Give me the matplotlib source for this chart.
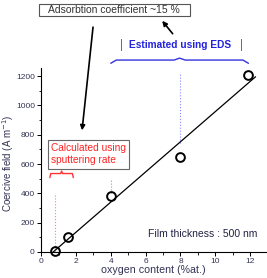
import matplotlib
matplotlib.use("Agg")
import matplotlib.pyplot as plt
from matplotlib.ticker import MultipleLocator

plt.rcParams['font.family'] = ['Liberation Sans', 'DejaVu Sans']

# measured points
oxygen = [0.8, 1.55, 4.0, 7.95, 11.9]
coercive = [8, 104, 382, 648, 1205]

# linear fit line
fit_x = [0.7, 12.3]
fit_y = [0, 1195]

# dotted guide lines
guide_x = [0.8, 4.0, 8.0]
guide_lo = [0, 400, 745]
guide_hi = [400, 490, 1220]
guide_col = ['#ff8080', '#9999aa', '#8888ff']

# brace ranges
eds_range = [4.0, 11.9]
eds_y = 1310
sput_range = [0.5, 1.85]
sput_y = 515

text_col = '#333355'


def brace(ax, x0, x1, y, h, color, lw=1.0):
    # simple curly brace, tip up, ends curling down
    xm = (x0 + x1) / 2
    r = (x1 - x0) * 0.04
    ax.plot([x0, x0 + r, xm - r, xm, xm + r, x1 - r, x1],
            [y - h, y, y, y + h * 0.6, y, y, y - h],
            color=color, lw=lw, clip_on=False, solid_capstyle='round')


fig = plt.figure(figsize=(2.67, 2.78), dpi=100)
ax = fig.add_axes([0.154, 0.094, 0.843, 0.661])

ax.plot(fit_x, fit_y, color='black', lw=0.9, zorder=2)
ax.plot(oxygen, coercive, 'o', ms=6.3, mfc='none', mec='black', mew=1.4,
        clip_on=False, zorder=3)

for gx, lo, hi, c in zip(guide_x, guide_lo, guide_hi, guide_col):
    ax.plot([gx, gx], [lo, hi], ls=':', lw=0.8, color=c, zorder=1, clip_on=False)

ax.set_xlim(0, 12.92)
ax.set_ylim(0, 1255)
ax.xaxis.set_major_locator(MultipleLocator(2))
ax.xaxis.set_minor_locator(MultipleLocator(1))
ax.yaxis.set_major_locator(MultipleLocator(200))
ax.yaxis.set_minor_locator(MultipleLocator(100))
ax.tick_params(which='major', length=3, width=0.7, labelsize=6, labelcolor=text_col, pad=1.5)
ax.tick_params(which='minor', length=1.8, width=0.6)
ax.spines['top'].set_visible(False)
ax.spines['right'].set_visible(False)
for s in ['left', 'bottom']:
    ax.spines[s].set_linewidth(0.8)

ax.set_xlabel('oxygen content (%at.)', fontsize=7.7, color=text_col, labelpad=0)
ax.set_ylabel('Coercive field (A m$^{-1}$)', fontsize=7, color=text_col)
ax.yaxis.set_label_coords(-0.112, 0.484)

ax.text(12.4, 120, 'Film thickness : 500 nm', fontsize=7.5, color='#222244',
        ha='right', va='center')

# EDS annotation
brace(ax, eds_range[0], eds_range[1], eds_y, 22, '#3333dd', lw=1.0)
ax.text(7.95, 1411, 'Estimated using EDS', fontsize=7.3, fontweight='bold',
        color='#2222dd', ha='center', va='center', clip_on=False)
ax.text(4.6, 1411, '|', fontsize=8.5, color='#6666aa', ha='center', va='center')
ax.text(11.5, 1411, '|', fontsize=8.5, color='#6666aa', ha='center', va='center')

# sputtering annotation
brace(ax, sput_range[0], sput_range[1], sput_y + 20, 28, '#ff3333', lw=1.0)
ax.text(0.57, 665, 'Calculated using\nsputtering rate', fontsize=7.3, color='#ff2222',
        ha='left', va='center', linespacing=1.25,
        bbox=dict(boxstyle='square,pad=0.3', fc='white', ec='#666666', lw=0.8))

# top box and arrows
ax.text(4.22, 1650, '   Adsorbtion coefficient ~15 %   ', fontsize=7.5, color='#333333',
        ha='center', va='center', clip_on=False,
        bbox=dict(boxstyle='square,pad=0.1', fc='white', ec='#555555', lw=0.8))
ax.annotate('', xy=(2.35, 830), xytext=(2.98, 1535), annotation_clip=False,
            arrowprops=dict(arrowstyle='-|>', color='black', lw=1.2,
                            mutation_scale=7, shrinkA=0, shrinkB=0))
ax.annotate('', xy=(6.95, 1578), xytext=(7.55, 1490), annotation_clip=False,
            arrowprops=dict(arrowstyle='-|>', color='black', lw=1.2,
                            mutation_scale=7, shrinkA=0, shrinkB=0))

fig.savefig('out.png', dpi=100)
